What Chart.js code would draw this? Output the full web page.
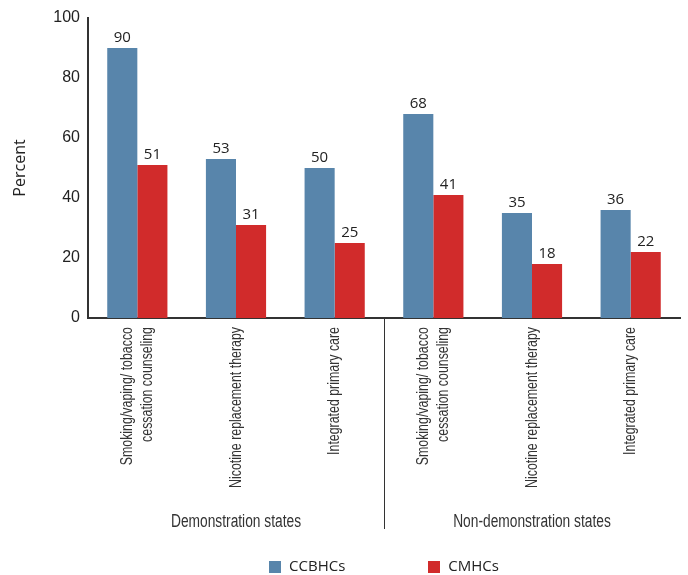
<!DOCTYPE html>
<html>
<head>
<meta charset="utf-8">
<script src="https://cdn.jsdelivr.net/npm/chart.js@4.4.1/dist/chart.umd.min.js"></script>
<style>
html,body{margin:0;padding:0;background:#fff;}
#wrap{width:688px;height:575px;position:relative;}
</style>
</head>
<body>
<div id="wrap"><canvas id="c" width="688" height="575"></canvas></div>
<script>
const categories = [
  ["Smoking/vaping/ tobacco", "cessation counseling"],
  ["Nicotine replacement therapy"],
  ["Integrated primary care"],
  ["Smoking/vaping/ tobacco", "cessation counseling"],
  ["Nicotine replacement therapy"],
  ["Integrated primary care"]
];
const groupNames = ["Demonstration states", "Non-demonstration states"];
const groupSizes = [3, 3];
const ccbhcValues = [90, 53, 50, 68, 35, 36];
const cmhcValues = [51, 31, 25, 41, 18, 22];
const seriesNames = ["CCBHCs", "CMHCs"];
const yTicks = [0, 20, 40, 60, 80, 100];

const BLUE = "#5885AB";
const RED = "#D12B2B";
const TEXT = "#222222";
const AXIS = "#333333";
const narrowFamily = "'Liberation Sans', Arial, sans-serif";

const overlay = {
  id: "overlay",
  afterDatasetsDraw(chart) {
    const ctx = chart.ctx;
    ctx.save();
    ctx.font = "15px 'Open Sans', sans-serif";
    ctx.fillStyle = TEXT;
    ctx.textAlign = "center";
    ctx.textBaseline = "bottom";
    chart.data.datasets.forEach((ds, di) => {
      const meta = chart.getDatasetMeta(di);
      meta.data.forEach((bar, i) => {
        ctx.fillText(String(ds.data[i]), bar.x, bar.y - 3);
      });
    });
    ctx.restore();
  },
  afterDraw(chart) {
    const ctx = chart.ctx;
    const xs = chart.scales.x;
    const area = chart.chartArea;
    ctx.save();
    // category labels (rotated, condensed)
    ctx.font = "16.5px " + narrowFamily;
    ctx.fillStyle = "#333333";
    ctx.textAlign = "right";
    ctx.textBaseline = "middle";
    const lh = 20;
    categories.forEach((lines, i) => {
      const px = xs.getPixelForValue(i);
      const n = lines.length;
      lines.forEach((ln, k) => {
        const off = (k - (n - 1) / 2) * lh;
        ctx.save();
        ctx.translate(px + off, area.bottom + 9);
        ctx.rotate(-Math.PI / 2);
        ctx.scale(0.75, 1);
        ctx.fillText(ln, 0, 0);
        ctx.restore();
      });
    });
    // group separators and names
    let start = 0;
    ctx.font = "18px " + narrowFamily;
    ctx.textAlign = "center";
    ctx.textBaseline = "middle";
    groupSizes.forEach((sz, g) => {
      const a = xs.getPixelForValue(start);
      const b = xs.getPixelForValue(start + sz - 1);
      ctx.save();
      ctx.translate((a + b) / 2, 522);
      ctx.scale(0.765, 1);
      ctx.fillText(groupNames[g], 0, 0);
      ctx.restore();
      if (g < groupSizes.length - 1) {
        const sx = (xs.getPixelForValue(start + sz - 1) + xs.getPixelForValue(start + sz)) / 2;
        ctx.strokeStyle = AXIS;
        ctx.lineWidth = 1;
        ctx.beginPath();
        ctx.moveTo(Math.round(sx) + 0.5, area.bottom);
        ctx.lineTo(Math.round(sx) + 0.5, 529);
        ctx.stroke();
      }
      start += sz;
    });
    // legend
    ctx.font = "15px 'Open Sans', sans-serif";
    ctx.textAlign = "left";
    ctx.textBaseline = "middle";
    const box = 12, gapText = 8, gapItem = 83;
    const widths = seriesNames.map(s => ctx.measureText(s).width);
    let total = 0;
    widths.forEach((w, i) => { total += box + gapText + w + (i < widths.length - 1 ? gapItem : 0); });
    let lx = (area.left + area.right) / 2 - total / 2;
    const ly = 567;
    chart.data.datasets.forEach((ds, i) => {
      ctx.fillStyle = ds.backgroundColor;
      ctx.fillRect(Math.round(lx), ly - box / 2, box, box);
      ctx.fillStyle = TEXT;
      ctx.fillText(seriesNames[i], lx + box + gapText, ly);
      lx += box + gapText + widths[i] + gapItem;
    });
    ctx.restore();
  }
};

new Chart(document.getElementById("c"), {
  type: "bar",
  data: {
    labels: categories.map(l => l.join(" ")),
    datasets: [
      { label: seriesNames[0], data: ccbhcValues, backgroundColor: BLUE, barPercentage: 1, categoryPercentage: 0.61 },
      { label: seriesNames[1], data: cmhcValues, backgroundColor: RED, barPercentage: 1, categoryPercentage: 0.61 }
    ]
  },
  options: {
    responsive: false,
    animation: false,
    devicePixelRatio: 1,
    layout: { padding: { top: 18, right: 8, bottom: 0, left: 0 } },
    plugins: { legend: { display: false }, tooltip: { enabled: false } },
    scales: {
      x: {
        grid: { display: false, drawTicks: false },
        border: { display: true, color: AXIS, width: 2 },
        ticks: { display: false },
        afterFit(scale) { scale.height = 257; }
      },
      y: {
        min: 0, max: 100,
        afterBuildTicks(scale) { scale.ticks = yTicks.map(v => ({ value: v })); },
        grid: { display: false, drawTicks: false },
        border: { display: true, color: AXIS, width: 2 },
        ticks: { color: TEXT, font: { family: "'Liberation Sans', Arial, sans-serif", size: 16 }, padding: 8 },
        title: { display: true, text: "Percent", color: TEXT, font: { family: "'Open Sans', sans-serif", size: 16 }, padding: { top: 11, bottom: 0 } },
        afterFit(scale) { scale.width = 88; }
      }
    }
  },
  plugins: [overlay]
});
</script>
</body>
</html>
